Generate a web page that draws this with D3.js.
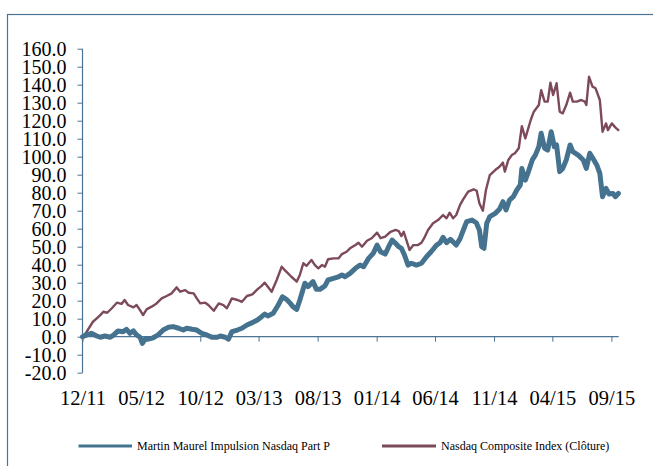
<!DOCTYPE html>
<html><head><meta charset="utf-8">
<script src="https://cdn.jsdelivr.net/npm/d3@7/dist/d3.min.js"></script>
<style>
html,body{margin:0;padding:0;background:#fff;}
svg{display:block;}
</style></head>
<body>
<svg id="chart" width="653" height="466"></svg>
<script>
const yTicks = [-20,-10,0,10,20,30,40,50,60,70,80,90,100,110,120,130,140,150,160];
const xTickDates = ["2011-12-01","2012-05-01","2012-10-01","2013-03-01","2013-08-01","2014-01-01","2014-06-01","2014-11-01","2015-04-01","2015-09-01"];
const xTickLabels = ["12/11","05/12","10/12","03/13","08/13","01/14","06/14","11/14","04/15","09/15"];
const seriesNames = ["Martin Maurel Impulsion Nasdaq Part P","Nasdaq Composite Index (Clôture)"];

const martinDates = ["2011-12-01","2011-12-12","2011-12-24","2012-01-07","2012-01-16","2012-01-28","2012-02-11","2012-02-20","2012-03-02","2012-03-15","2012-03-24","2012-04-02","2012-04-11","2012-04-19","2012-04-28","2012-05-04","2012-05-11","2012-05-19","2012-06-01","2012-06-14","2012-06-27","2012-07-10","2012-07-23","2012-08-06","2012-08-18","2012-08-27","2012-09-10","2012-09-22","2012-10-05","2012-10-18","2012-10-31","2012-11-14","2012-11-22","2012-12-05","2012-12-13","2012-12-22","2013-01-05","2013-01-17","2013-01-30","2013-02-13","2013-02-26","2013-03-09","2013-03-17","2013-03-25","2013-04-08","2013-04-21","2013-05-02","2013-05-12","2013-05-21","2013-05-29","2013-06-08","2013-06-16","2013-06-29","2013-07-07","2013-07-20","2013-07-29","2013-08-07","2013-08-20","2013-08-28","2013-09-11","2013-09-24","2013-10-03","2013-10-11","2013-10-24","2013-11-07","2013-11-19","2013-11-28","2013-12-11","2013-12-23","2014-01-02","2014-01-11","2014-01-23","2014-02-01","2014-02-10","2014-02-19","2014-02-27","2014-03-06","2014-03-14","2014-03-23","2014-04-01","2014-04-14","2014-04-27","2014-05-10","2014-05-22","2014-06-05","2014-06-14","2014-06-22","2014-07-01","2014-07-11","2014-07-26","2014-08-05","2014-08-13","2014-08-22","2014-09-05","2014-09-16","2014-09-24","2014-09-30","2014-10-06","2014-10-13","2014-10-21","2014-11-04","2014-11-15","2014-11-24","2014-12-02","2014-12-11","2014-12-21","2014-12-30","2015-01-08","2015-01-12","2015-01-21","2015-01-29","2015-02-08","2015-02-16","2015-02-25","2015-03-03","2015-03-12","2015-03-20","2015-03-29","2015-04-06","2015-04-12","2015-04-20","2015-04-28","2015-05-07","2015-05-17","2015-05-24","2015-06-07","2015-06-20","2015-06-28","2015-07-07","2015-07-15","2015-07-25","2015-08-02","2015-08-09","2015-08-18","2015-08-26","2015-09-05","2015-09-11","2015-09-19"];
const martinValues = [0,1,1.9,0.4,-0.3,0.4,-0.3,1,3.2,2.8,4.1,1.9,3.2,1,-0.3,-3.7,-1.4,-1.4,-0.6,1,3.7,5.2,5.6,4.7,3.7,4.7,4.1,3.7,1.9,1,-0.3,-0.3,0.4,-0.3,-1.4,2.8,3.7,4.7,6.5,7.8,9.3,11.1,12.6,11.5,13,17.6,22.2,20.8,18.9,16.7,15.2,20.4,29.7,27.8,30.6,26.3,26.3,28.2,31.5,32.4,33.3,34.3,33.3,35.2,38,39.8,38.9,43.5,46.3,50.9,47.2,45.9,50,53.7,51.9,50,49.1,45.4,39.8,40.8,39.8,40.8,44.4,47.2,50.9,52.2,55.2,52.2,54.1,50.9,54.5,59,63.9,64.8,63.3,59.3,50,49.1,63,66.7,68.5,70.8,75,70.4,75.9,77.8,81.5,84.3,93.5,87,91.7,98.2,100.9,105.6,113,104.7,103.7,113.9,105.6,106.5,91.7,93.5,98.2,106.5,102.8,100.9,98.2,93.5,101.9,99.1,95.4,90.8,77.8,82.4,79.3,79.6,77.8,79.6];

const nasdaqDates = ["2011-12-01","2011-12-12","2011-12-28","2012-01-07","2012-01-16","2012-01-24","2012-02-03","2012-02-15","2012-02-28","2012-03-11","2012-03-19","2012-03-28","2012-04-11","2012-04-19","2012-04-28","2012-05-06","2012-05-15","2012-05-28","2012-06-10","2012-06-23","2012-07-06","2012-07-19","2012-08-01","2012-08-10","2012-08-23","2012-09-01","2012-09-14","2012-09-22","2012-10-01","2012-10-14","2012-10-22","2012-11-05","2012-11-18","2012-11-30","2012-12-09","2012-12-22","2013-01-05","2013-01-17","2013-01-30","2013-02-13","2013-02-26","2013-03-09","2013-03-17","2013-03-25","2013-04-04","2013-04-17","2013-04-30","2013-05-08","2013-05-25","2013-06-08","2013-06-16","2013-06-25","2013-07-03","2013-07-16","2013-07-25","2013-08-03","2013-08-12","2013-08-20","2013-08-28","2013-09-11","2013-09-24","2013-10-03","2013-10-15","2013-10-24","2013-11-07","2013-11-15","2013-11-24","2013-12-07","2013-12-19","2014-01-02","2014-01-11","2014-01-23","2014-02-06","2014-02-19","2014-02-27","2014-03-06","2014-03-12","2014-03-19","2014-03-27","2014-04-06","2014-04-18","2014-04-27","2014-05-06","2014-05-14","2014-05-27","2014-06-09","2014-06-22","2014-07-01","2014-07-09","2014-07-18","2014-07-26","2014-08-05","2014-08-13","2014-08-26","2014-09-09","2014-09-17","2014-09-24","2014-10-03","2014-10-11","2014-10-21","2014-11-04","2014-11-15","2014-11-24","2014-11-29","2014-12-08","2014-12-17","2014-12-25","2015-01-04","2015-01-12","2015-01-21","2015-02-04","2015-02-12","2015-02-25","2015-03-03","2015-03-12","2015-03-20","2015-03-27","2015-04-03","2015-04-12","2015-04-20","2015-04-28","2015-05-07","2015-05-17","2015-05-24","2015-06-03","2015-06-15","2015-06-24","2015-06-28","2015-07-05","2015-07-14","2015-07-22","2015-08-02","2015-08-09","2015-08-18","2015-08-23","2015-09-02","2015-09-11","2015-09-19"];
const nasdaqValues = [0,2.8,8.3,10.2,12,13.9,13.3,15.8,18.9,18.2,20.4,17.6,16.3,17.6,14.8,12,15.2,16.7,18.5,21.3,22.6,24.1,27.4,25,25.9,24.4,24.1,21.3,18.5,18.9,17.6,14.4,18.5,17.6,15.8,21.3,20.4,19.4,22.6,23.5,26.3,28.2,30,27.8,25,31.5,38.9,37,33.3,30.6,34.3,40.8,39.3,42.6,39.8,38,39.8,38.9,43,43.5,43.5,45.9,47.2,49.1,50.9,52.2,50,53.3,54.7,57.8,54.7,55.6,58.3,59.3,58.7,55.9,58.3,53.7,48.2,50.9,50.9,52.2,55.6,59.3,63,64.8,67.6,65.8,68.9,65.8,67.6,73.2,76.3,80.6,81.9,81.1,74.1,70,81.5,89.8,92.6,94.4,96.7,91.7,98.2,100.9,101.9,104.7,117,110.2,120.4,125,128.7,137,130.6,130.6,141.1,134.3,140.8,125,124.1,128.7,135.6,130.6,130.6,131.5,130.6,128.7,144.4,138.9,138,131.5,113.9,118.5,114.8,118.5,116.3,114.8];

const parse = d3.timeParse("%Y-%m-%d");
const svg = d3.select("#chart");
const axisColor = "#4a7394";
const blue = "#45738f";
const red = "#7d4a5b";
const serif = "'Liberation Serif','Times New Roman',serif";

// outer frame
svg.append("rect").attr("x",7.5).attr("y",14.5).attr("width",700).attr("height",500)
  .attr("fill","none").attr("stroke",axisColor).attr("stroke-width",1.2);

const x = d3.scaleTime()
  .domain([parse("2011-12-01"), parse("2015-10-01")])
  .range([82.5, 623]);
const y = d3.scaleLinear().domain([-20,160]).range([372.7, 48.7]);

// y axis
const yAxis = svg.append("g").attr("transform","translate(82.5,0)")
  .call(d3.axisLeft(y).tickValues(yTicks).tickSize(5).tickPadding(11).tickFormat(d => d.toFixed(1)));
yAxis.select(".domain").attr("stroke",axisColor).attr("stroke-width",1.2).attr("d", `M0,${y(-20)}V${y(160)}`);
yAxis.selectAll(".tick line").attr("stroke",axisColor);
yAxis.selectAll("text").attr("font-family",serif).attr("font-size",20).attr("fill","#000");

// x axis at zero
const xAxis = svg.append("g").attr("transform",`translate(0,${y(0)})`)
  .call(d3.axisBottom(x).tickValues(xTickDates.map(parse)).tickSize(5).tickPadding(49)
    .tickFormat((d,i) => xTickLabels[i]));
xAxis.select(".domain").attr("stroke",axisColor).attr("stroke-width",1.2).attr("d", `M82.5,0H${x(parse("2015-09-20"))}`);
xAxis.selectAll(".tick line").attr("stroke",axisColor);
xAxis.selectAll("text").attr("font-family",serif).attr("font-size",20.5).attr("fill","#000");

const line = d3.line().x(d => x(d[0])).y(d => y(d[1]));
const martin = martinDates.map((d,i) => [parse(d), martinValues[i]]);
const nasdaq = nasdaqDates.map((d,i) => [parse(d), nasdaqValues[i]]);

svg.append("path").datum(nasdaq).attr("d",line).attr("fill","none")
  .attr("stroke",red).attr("stroke-width",2.4).attr("stroke-linejoin","round").attr("stroke-linecap","round");
svg.append("path").datum(martin).attr("d",line).attr("fill","none")
  .attr("stroke",blue).attr("stroke-width",5).attr("stroke-linejoin","round").attr("stroke-linecap","round");

// legend
const legend = [
  {name: seriesNames[0], color: blue, x1: 78.5, x2: 132, tx: 137},
  {name: seriesNames[1], color: red, x1: 382, x2: 436, tx: 441}
];
const lg = svg.append("g");
legend.forEach(l => {
  lg.append("line").attr("x1",l.x1).attr("x2",l.x2).attr("y1",446).attr("y2",446)
    .attr("stroke",l.color).attr("stroke-width",3);
  lg.append("text").attr("x",l.tx).attr("y",450).text(l.name)
    .attr("font-family",serif).attr("font-size",12).attr("fill","#000");
});
</script>
</body></html>
